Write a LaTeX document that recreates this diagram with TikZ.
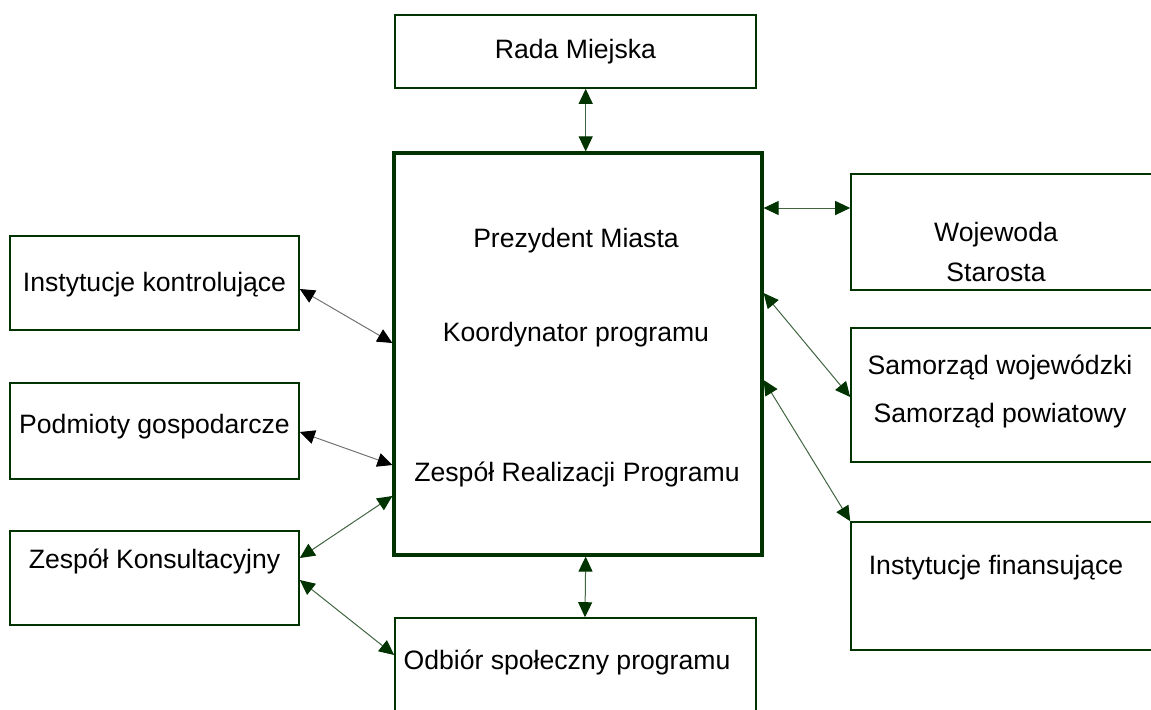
\documentclass[tikz,border=0pt]{standalone}
\usepackage{fontspec}
\setmainfont{Liberation Sans}
\usetikzlibrary{arrows.meta}
\definecolor{darkgreen}{rgb}{0.0, 0.2, 0.0}
\definecolor{linegreen}{rgb}{0.25, 0.4, 0.25}

\begin{document}
\begin{tikzpicture}[x=0.5pt, y=-0.5pt,
    box/.style={draw=darkgreen, line width=0.8pt, inner sep=0pt},
    mainbox/.style={draw=darkgreen, line width=1.6pt, inner sep=0pt},
    txt/.style={font=\fontsize{13.3}{20}\selectfont, align=center, inner sep=0pt},
    link/.style={draw=linegreen, line width=0.5pt,
      {Triangle[length=7.5pt,width=7pt,color=darkgreen]}-{Triangle[length=7.5pt,width=7pt,color=darkgreen]}},
    greylink/.style={draw=black!55, line width=0.5pt,
      {Triangle[length=7.5pt,width=7pt,color=black]}-{Triangle[length=7.5pt,width=7pt,color=black]}}]

  \useasboundingbox (0,0) rectangle (1151,709);

  % Top and main boxes
  \node[box, minimum width=180.5pt, minimum height=36.5pt] (rada) at (575.5,51.5) {};
  \node[txt] (radatxt) at (575.5,51.5) {Rada Miejska};

  \node[mainbox, minimum width=184pt, minimum height=201pt] (main) at (578,354) {};
  \node[txt] (prez) at (576,241) {Prezydent Miasta};
  \node[txt] (koord) at (576,335) {Koordynator programu};
  \node[txt] (zrp) at (577,474) {Zespół Realizacji Programu};

  \node[box, minimum width=180.5pt, minimum height=51pt] (odbior) at (575.5,669) {};
  \node[txt] (odbiortxt) at (567,662) {Odbiór społeczny programu};

  % Right boxes
  \node[box, minimum width=153pt, minimum height=58pt] (wojew) at (1004,232) {};
  \node[txt] (wojewtxt) at (996,252) {Wojewoda\\Starosta};

  \node[box, minimum width=153pt, minimum height=67pt] (samorz) at (1004,395) {};
  \node[txt, font=\fontsize{13.3}{24}\selectfont] (samorztxt) at (1000,391) {Samorząd wojewódzki\\Samorząd powiatowy};

  \node[box, minimum width=153pt, minimum height=64pt] (finans) at (1004,586) {};
  \node[txt] (finanstxt) at (996,568) {Instytucje finansujące};

  % Left boxes
  \node[box, minimum width=144.5pt, minimum height=47pt] (kontrol) at (154.5,283) {};
  \node[txt] (kontroltxt) at (154.5,285) {Instytucje kontrolujące};

  \node[box, minimum width=144.5pt, minimum height=48pt] (podm) at (154.5,431) {};
  \node[txt] (podmtxt) at (154.5,427) {Podmioty gospodarcze};

  \node[box, minimum width=144.5pt, minimum height=47pt] (konsult) at (154.5,578) {};
  \node[txt] (konsulttxt) at (154.5,561) {Zespół Konsultacyjny};

  % Connectors
  \draw[link] ([xshift=5.1pt]rada.south) -- ([xshift=3.85pt]main.north);
  \draw[link] ([xshift=3.85pt]main.south) -- ([xshift=4.75pt]odbior.north);

  \draw[link] ([yshift=73pt]main.east) -- ([yshift=12pt]wojew.west);
  \draw[link] ([yshift=30.5pt]main.east) -- ([yshift=-1pt]samorz.west);
  \draw[link] ([yshift=-13pt]main.east) -- (finans.north west);

  \draw[greylink] ([yshift=-3pt]kontrol.east) -- ([yshift=5.5pt]main.west);
  \draw[greylink] ([yshift=-0.5pt]podm.east) -- ([yshift=-55.5pt]main.west);
  \draw[link] ([yshift=10pt]konsult.east) -- ([yshift=-71pt]main.west);
  \draw[link] ([yshift=-1pt]konsult.east) -- ([yshift=7pt]odbior.west);

\end{tikzpicture}
\end{document}
